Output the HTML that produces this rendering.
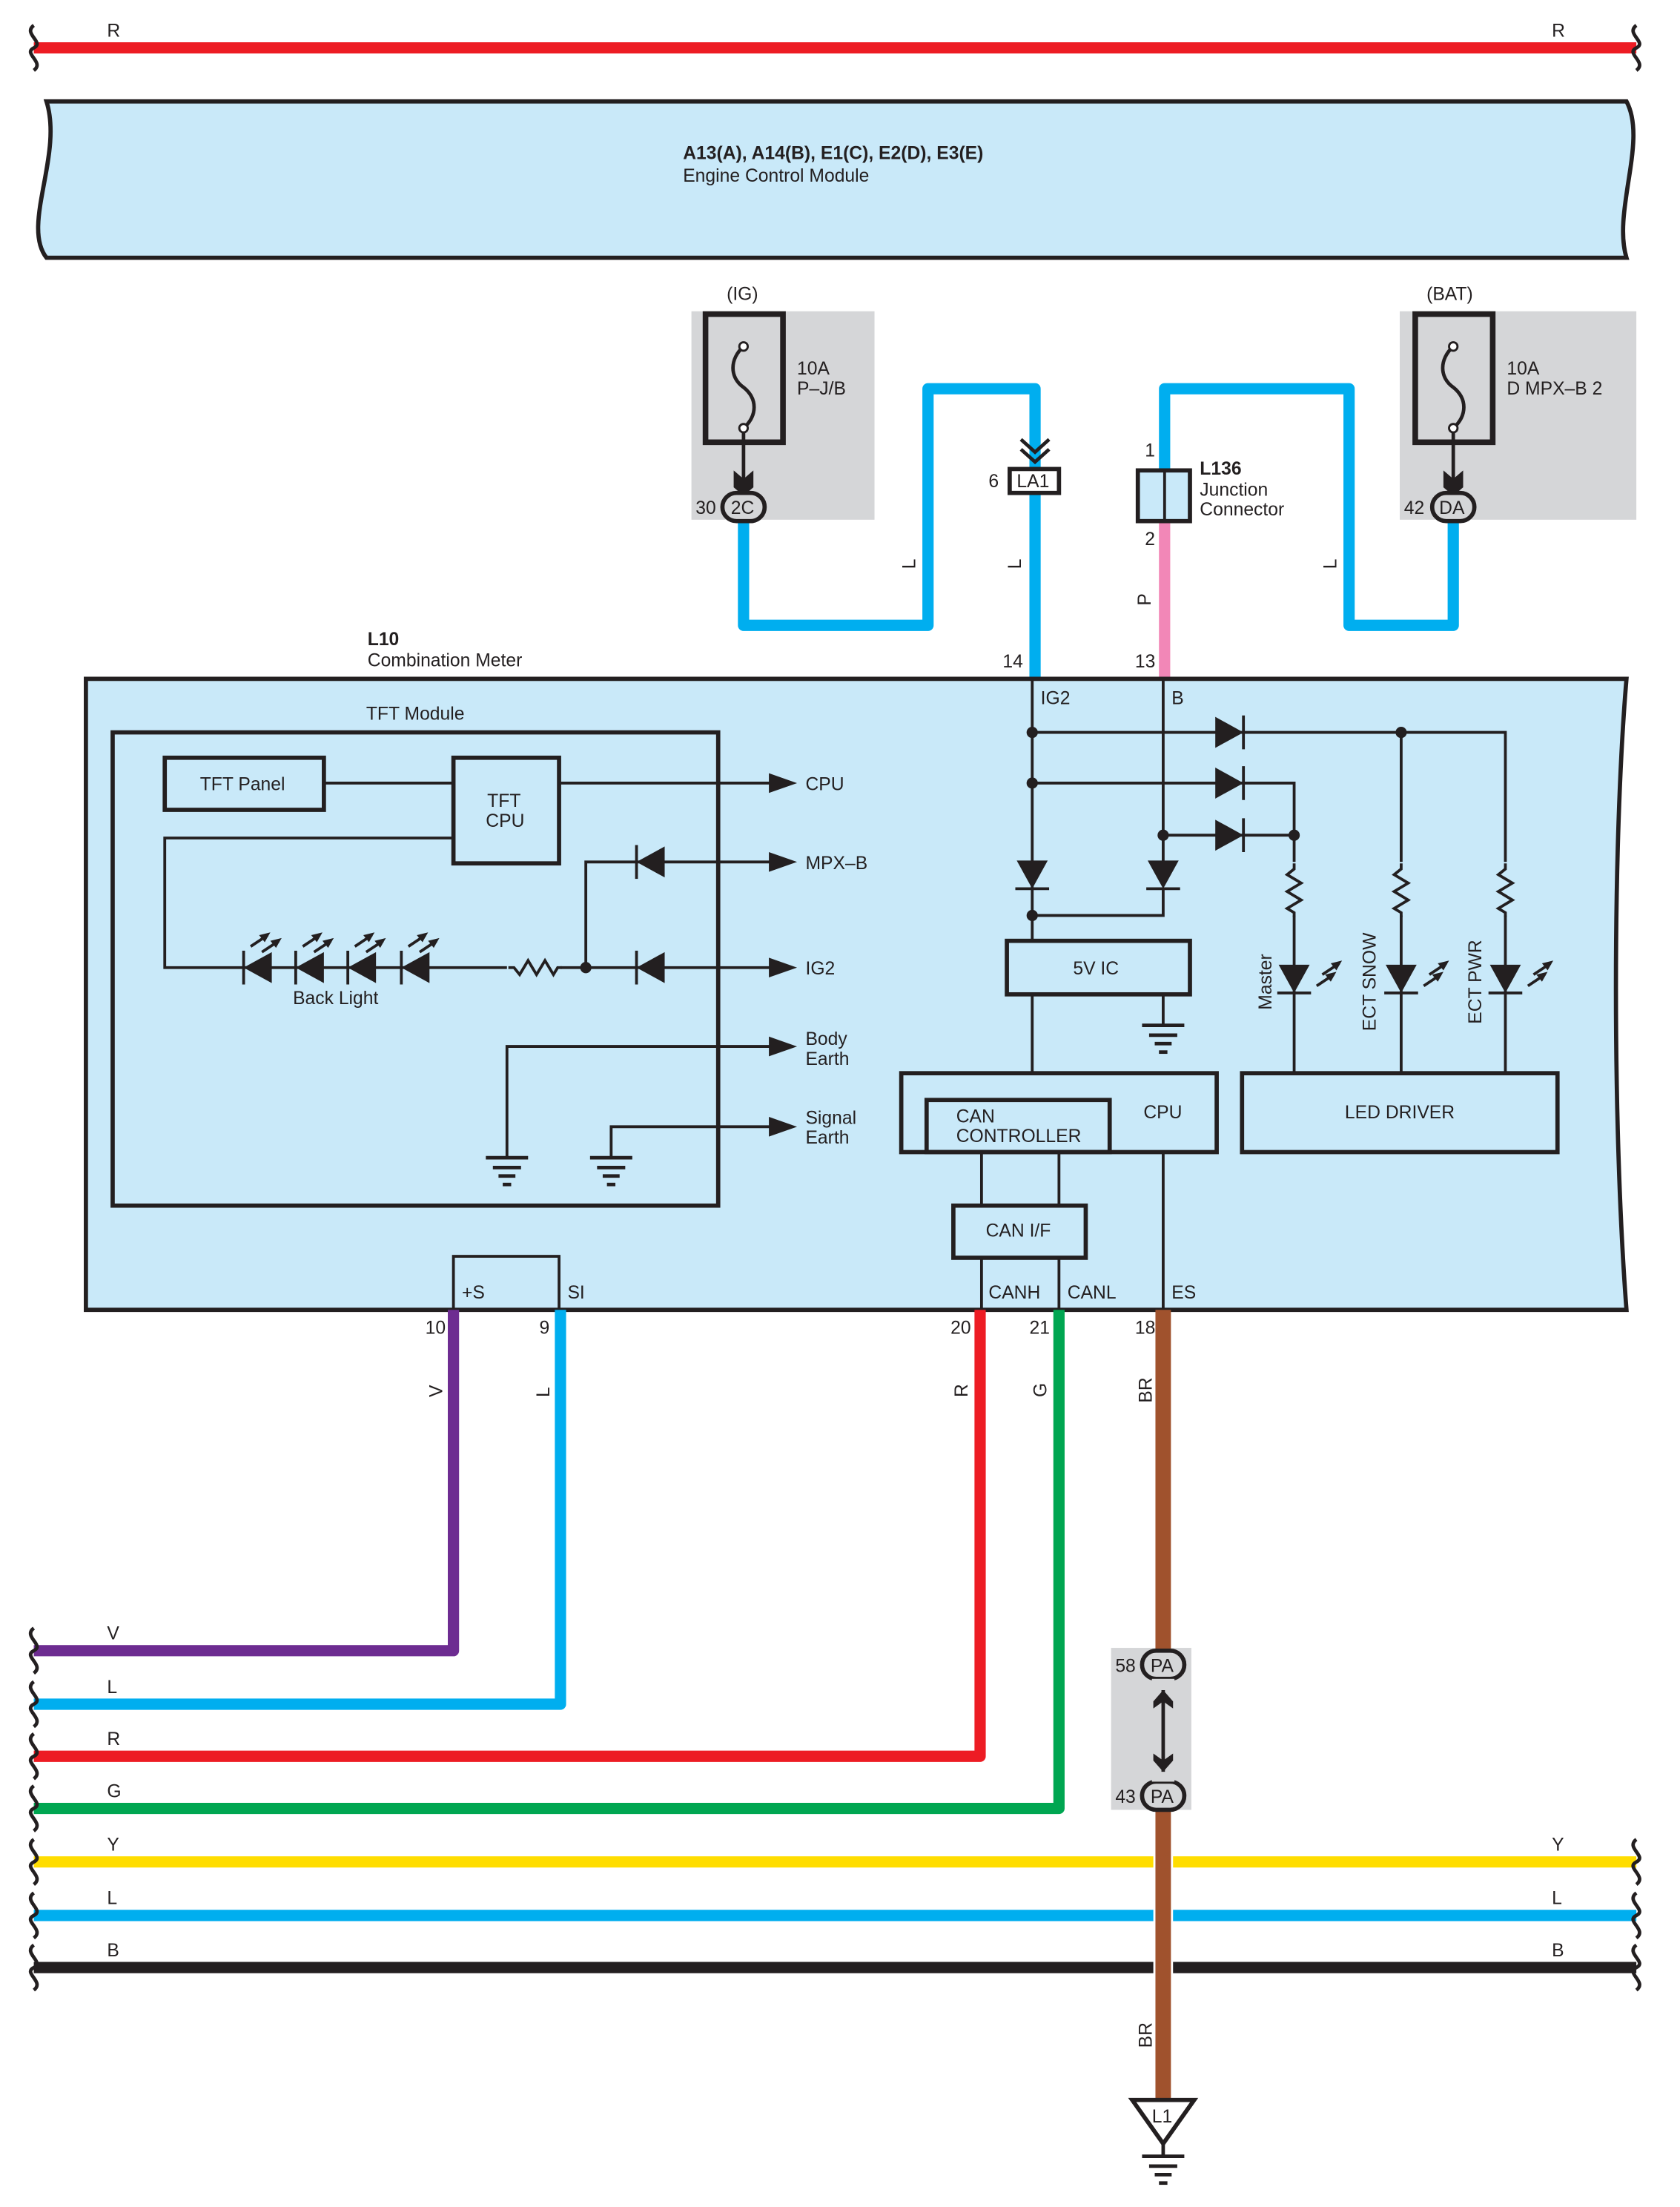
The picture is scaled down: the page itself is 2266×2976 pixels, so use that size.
<!DOCTYPE html>
<html><head><meta charset="utf-8">
<style>
html,body{margin:0;padding:0;background:#fff;}
svg{display:block;}
text{font-family:"Liberation Sans",sans-serif;font-size:13px;fill:#231f20;}
</style></head>
<body>
<svg width="2266" height="2976" viewBox="0 0 1193 1567" preserveAspectRatio="none" xmlns="http://www.w3.org/2000/svg">
<defs>
<g id="dr"><polygon points="-10,-11 10,0 -10,11" fill="#231f20"/><line x1="10" y1="-12" x2="10" y2="12" stroke="#231f20" stroke-width="2"/></g>
<g id="gnd"><line x1="-15" y1="0" x2="15" y2="0" stroke="#231f20" stroke-width="2.5"/><line x1="-10" y1="7" x2="10" y2="7" stroke="#231f20" stroke-width="2.5"/><line x1="-6" y1="13" x2="6" y2="13" stroke="#231f20" stroke-width="2.5"/><line x1="-3" y1="19" x2="3" y2="19" stroke="#231f20" stroke-width="2.5"/></g>
<g id="res"><polyline points="0,-18 0,-14 -5,-10 5,-4 -5,2 5,8 -5,14 0,17 0,20" fill="none" stroke="#231f20" stroke-width="2"/></g>
<g id="arr"><polygon points="-10,-7 10,0 -10,7" fill="#231f20"/></g>
<g id="ray"><line x1="0" y1="0" x2="12" y2="-8" stroke="#231f20" stroke-width="2"/><polygon points="14,-10 6,-8 10,-3" fill="#231f20"/></g>
<g id="wl" fill="none" stroke="#231f20" stroke-width="2.5"><path d="M0,-16 C-8,-10 8,-4 0,0 C-8,4 8,10 0,16"/></g>
</defs>

<line x1="24" y1="34" x2="1162" y2="34" stroke="#ed1c24" stroke-width="8"/>
<use href="#wl" x="24" y="34"/><use href="#wl" x="1162" y="34"/>
<text x="76" y="26">R</text><text x="1102" y="26">R</text>

<path d="M33,72 L1155,72 C1170,100 1145,150 1155,183 L33,183 C15,160 45,110 33,72 Z" fill="#c9e9f9" stroke="#231f20" stroke-width="3"/>
<text x="485" y="113" style="font-weight:bold">A13(A), A14(B), E1(C), E2(D), E3(E)</text>
<text x="485" y="129">Engine Control Module</text>

<rect x="491" y="221" width="130" height="148" fill="#d5d6d8"/>
<rect x="994" y="221" width="168" height="148" fill="#d5d6d8"/>
<rect x="501" y="223" width="55" height="91" fill="none" stroke="#231f20" stroke-width="4"/>
<rect x="1005" y="223" width="55" height="91" fill="none" stroke="#231f20" stroke-width="4"/>
<g fill="none" stroke="#231f20" stroke-width="2.5">
<path d="M528,246 C518,255 518,268 528,275 C538,283 538,295 528,304"/>
<path d="M1032,246 C1022,255 1022,268 1032,275 C1042,283 1042,295 1032,304"/>
<line x1="528" y1="304" x2="528" y2="342"/><line x1="1032" y1="304" x2="1032" y2="342"/>
</g>
<circle cx="528" cy="246" r="3" fill="#fff" stroke="#231f20" stroke-width="1.5"/><circle cx="528" cy="304" r="3" fill="#fff" stroke="#231f20" stroke-width="1.5"/>
<circle cx="1032" cy="246" r="3" fill="#fff" stroke="#231f20" stroke-width="1.5"/><circle cx="1032" cy="304" r="3" fill="#fff" stroke="#231f20" stroke-width="1.5"/>
<polygon points="521,334 528,340 535,334 535,346 528,352 521,346" fill="#231f20"/>
<polygon points="1025,334 1032,340 1039,334 1039,346 1032,352 1025,346" fill="#231f20"/>
<text x="516" y="213">(IG)</text><text x="1013" y="213">(BAT)</text>
<text x="566" y="266">10A</text><text x="566" y="280">P–J/B</text>
<text x="1070" y="266">10A</text><text x="1070" y="280">D MPX–B 2</text>

<g fill="none" stroke="#00aeef" stroke-width="8" stroke-linejoin="round">
<polyline points="528,368 528,444 659,444 659,276 735,276 735,332"/>
<line x1="735" y1="350" x2="735" y2="482"/>
<polyline points="827,333 827,276 958,276 958,444 1032,444 1032,368"/>
</g>
<line x1="827" y1="370" x2="827" y2="482" stroke="#f287b7" stroke-width="8"/>
<rect x="513" y="350" width="30" height="20" rx="10" fill="#d5d6d8" stroke="#231f20" stroke-width="3"/>
<text x="519" y="365">2C</text><text x="494" y="365">30</text>
<rect x="1017" y="350" width="30" height="20" rx="10" fill="#d5d6d8" stroke="#231f20" stroke-width="3"/>
<text x="1022" y="365">DA</text><text x="997" y="365">42</text>
<rect x="717" y="333" width="35" height="17" fill="#fff" stroke="#231f20" stroke-width="3"/>
<text x="722" y="346">LA1</text><text x="702" y="346">6</text>
<polyline points="725,312 735,321 745,312" fill="none" stroke="#231f20" stroke-width="2.5"/>
<polyline points="725,319 735,328 745,319" fill="none" stroke="#231f20" stroke-width="2.5"/>
<rect x="808" y="334" width="37" height="36" fill="#c9e9f9" stroke="#231f20" stroke-width="3"/>
<line x1="827" y1="334" x2="827" y2="370" stroke="#231f20" stroke-width="2"/>
<text x="852" y="337" style="font-weight:bold">L136</text><text x="852" y="352">Junction</text><text x="852" y="366">Connector</text>
<text x="813" y="324">1</text><text x="813" y="387">2</text>
<text transform="translate(650,404) rotate(-90)">L</text>
<text transform="translate(725,404) rotate(-90)">L</text>
<text transform="translate(949,404) rotate(-90)">L</text>
<text transform="translate(817,430) rotate(-90)">P</text>
<text x="712" y="474">14</text><text x="806" y="474">13</text>

<text x="261" y="458" style="font-weight:bold">L10</text>
<text x="261" y="473">Combination Meter</text>

<path d="M61,482 L1155,482 C1145,600 1145,800 1155,930 L61,930 Z" fill="#c9e9f9" stroke="#231f20" stroke-width="3"/>

<text x="260" y="511">TFT Module</text>
<rect x="80" y="520" width="430" height="336" fill="none" stroke="#231f20" stroke-width="3"/>
<rect x="117" y="538" width="113" height="37" fill="none" stroke="#231f20" stroke-width="3"/>
<text x="142" y="561">TFT Panel</text>
<rect x="322" y="538" width="75" height="75" fill="none" stroke="#231f20" stroke-width="3"/>
<text x="346" y="573">TFT</text><text x="345" y="587">CPU</text>
<g stroke="#231f20" stroke-width="2" fill="none">
<line x1="230" y1="556" x2="322" y2="556"/>
<line x1="397" y1="556" x2="556" y2="556"/>
<polyline points="322,595 117,595 117,687 360,687"/>
<line x1="398" y1="687" x2="556" y2="687"/>
<polyline points="416,687 416,612 556,612"/>
<polyline points="360,822 360,743 556,743"/>
<polyline points="434,822 434,800 556,800"/>
</g>
<use href="#res" transform="translate(379,687) rotate(-90)"/>
<circle cx="416" cy="687" r="4" fill="#231f20"/>
<use href="#dr" transform="translate(462,612) rotate(180)"/>
<use href="#dr" transform="translate(462,687) rotate(180)"/>
<use href="#dr" transform="translate(183,687) rotate(180)"/>
<use href="#dr" transform="translate(220,687) rotate(180)"/>
<use href="#dr" transform="translate(257,687) rotate(180)"/>
<use href="#dr" transform="translate(295,687) rotate(180)"/>
<use href="#ray" x="178" y="672"/><use href="#ray" x="186" y="676"/>
<use href="#ray" x="215" y="672"/><use href="#ray" x="223" y="676"/>
<use href="#ray" x="252" y="672"/><use href="#ray" x="260" y="676"/>
<use href="#ray" x="290" y="672"/><use href="#ray" x="298" y="676"/>
<text x="208" y="713">Back Light</text>
<use href="#gnd" x="360" y="822"/><use href="#gnd" x="434" y="822"/>
<use href="#arr" x="556" y="556"/><use href="#arr" x="556" y="612"/><use href="#arr" x="556" y="687"/>
<use href="#arr" x="556" y="743"/><use href="#arr" x="556" y="800"/>
<text x="572" y="561">CPU</text><text x="572" y="617">MPX–B</text><text x="572" y="692">IG2</text>
<text x="572" y="742">Body</text><text x="572" y="756">Earth</text>
<text x="572" y="798">Signal</text><text x="572" y="812">Earth</text>

<text x="739" y="500">IG2</text><text x="832" y="500">B</text>
<g stroke="#231f20" stroke-width="2" fill="none">
<line x1="733" y1="482" x2="733" y2="668"/>
<line x1="826" y1="482" x2="826" y2="612"/>
<polyline points="733,650 826,650 826,630"/>
<polyline points="733,520 1069,520 1069,612"/>
<polyline points="733,556 919,556 919,612"/>
<line x1="826" y1="593" x2="919" y2="593"/>
<line x1="995" y1="520" x2="995" y2="612"/>
<line x1="919" y1="650" x2="919" y2="762"/>
<line x1="995" y1="650" x2="995" y2="762"/>
<line x1="1069" y1="650" x2="1069" y2="762"/>
<line x1="826" y1="706" x2="826" y2="728"/>
<line x1="733" y1="706" x2="733" y2="762"/>
<line x1="697" y1="818" x2="697" y2="930"/>
<line x1="752" y1="818" x2="752" y2="930"/>
<line x1="826" y1="818" x2="826" y2="930"/>
</g>
<circle cx="733" cy="520" r="4" fill="#231f20"/><circle cx="733" cy="556" r="4" fill="#231f20"/>
<circle cx="733" cy="650" r="4" fill="#231f20"/><circle cx="826" cy="593" r="4" fill="#231f20"/>
<circle cx="995" cy="520" r="4" fill="#231f20"/><circle cx="919" cy="593" r="4" fill="#231f20"/>
<use href="#dr" x="873" y="520"/><use href="#dr" x="873" y="556"/><use href="#dr" x="873" y="593"/>
<use href="#dr" transform="translate(733,621) rotate(90)"/>
<use href="#dr" transform="translate(826,621) rotate(90)"/>
<use href="#res" x="919" y="631"/><use href="#res" x="995" y="631"/><use href="#res" x="1069" y="631"/>
<use href="#dr" transform="translate(919,695) rotate(90)"/>
<use href="#dr" transform="translate(995,695) rotate(90)"/>
<use href="#dr" transform="translate(1069,695) rotate(90)"/>
<use href="#ray" x="935" y="700"/><use href="#ray" x="939" y="692"/>
<use href="#ray" x="1011" y="700"/><use href="#ray" x="1015" y="692"/>
<use href="#ray" x="1085" y="700"/><use href="#ray" x="1089" y="692"/>
<text transform="translate(903,717) rotate(-90)">Master</text>
<text transform="translate(977,732) rotate(-90)">ECT SNOW</text>
<text transform="translate(1052,727) rotate(-90)">ECT PWR</text>
<rect x="715" y="668" width="130" height="38" fill="none" stroke="#231f20" stroke-width="3"/>
<text x="762" y="692">5V IC</text>
<use href="#gnd" x="826" y="728"/>
<rect x="640" y="762" width="224" height="56" fill="none" stroke="#231f20" stroke-width="3"/>
<rect x="658" y="781" width="130" height="37" fill="none" stroke="#231f20" stroke-width="3"/>
<text x="679" y="797">CAN</text><text x="679" y="811">CONTROLLER</text>
<text x="812" y="794">CPU</text>
<rect x="882" y="762" width="224" height="56" fill="none" stroke="#231f20" stroke-width="3"/>
<text x="955" y="794">LED DRIVER</text>
<rect x="677" y="856" width="94" height="37" fill="#c9e9f9" stroke="#231f20" stroke-width="3"/>
<text x="700" y="878">CAN I/F</text>
<text x="702" y="922">CANH</text><text x="758" y="922">CANL</text><text x="832" y="922">ES</text>
<rect x="322" y="892" width="75" height="38" fill="none" stroke="#231f20" stroke-width="2"/>
<text x="328" y="922">+S</text><text x="403" y="922">SI</text>

<g fill="none" stroke-width="8" stroke-linejoin="round">
<polyline points="322,930 322,1172 24,1172" stroke="#6d2c91"/>
<polyline points="398,930 398,1210 24,1210" stroke="#00aeef"/>
<polyline points="696,930 696,1247 24,1247" stroke="#ed1c24"/>
<polyline points="752,930 752,1284 24,1284" stroke="#00a651"/>
<line x1="24" y1="1322" x2="1162" y2="1322" stroke="#ffdd00"/>
<line x1="24" y1="1360" x2="1162" y2="1360" stroke="#00aeef"/>
<line x1="24" y1="1397" x2="1162" y2="1397" stroke="#231f20"/>
</g>
<rect x="819" y="1300" width="14" height="110" fill="#fff"/>
<rect x="789" y="1170" width="57" height="115" fill="#d5d6d8"/>
<line x1="826" y1="930" x2="826" y2="1490" stroke="#a0522d" stroke-width="11"/>
<rect x="811" y="1172" width="30" height="20" rx="10" fill="#d5d6d8" stroke="#231f20" stroke-width="3"/>
<rect x="811" y="1265" width="30" height="20" rx="10" fill="#d5d6d8" stroke="#231f20" stroke-width="3"/>
<rect x="818" y="1192" width="16" height="73" fill="#d5d6d8"/>
<line x1="826" y1="1200" x2="826" y2="1258" stroke="#231f20" stroke-width="2.5"/>
<polygon points="819,1208 826,1200 833,1208 833,1213 826,1208 819,1213" fill="#231f20"/>
<polygon points="819,1250 826,1258 833,1250 833,1245 826,1250 819,1245" fill="#231f20"/>
<text x="817" y="1187">PA</text><text x="817" y="1280">PA</text>
<text x="792" y="1187">58</text><text x="792" y="1280">43</text>
<polygon points="804,1491 848,1491 826,1522" fill="#fff" stroke="#231f20" stroke-width="3"/>
<text x="818" y="1507">L1</text>
<line x1="826" y1="1522" x2="826" y2="1530" stroke="#231f20" stroke-width="2.5"/>
<use href="#gnd" x="826" y="1531"/>
<use href="#wl" x="24" y="1172"/><use href="#wl" x="24" y="1210"/><use href="#wl" x="24" y="1247"/>
<use href="#wl" x="24" y="1284"/><use href="#wl" x="24" y="1322"/><use href="#wl" x="24" y="1360"/><use href="#wl" x="24" y="1397"/>
<use href="#wl" x="1162" y="1322"/><use href="#wl" x="1162" y="1360"/><use href="#wl" x="1162" y="1397"/>
<text x="76" y="1164">V</text><text x="76" y="1202">L</text><text x="76" y="1239">R</text><text x="76" y="1276">G</text>
<text x="76" y="1314">Y</text><text x="76" y="1352">L</text><text x="76" y="1389">B</text>
<text x="1102" y="1314">Y</text><text x="1102" y="1352">L</text><text x="1102" y="1389">B</text>
<text x="302" y="947">10</text><text x="383" y="947">9</text><text x="675" y="947">20</text><text x="731" y="947">21</text><text x="806" y="947">18</text>
<text transform="translate(314,992) rotate(-90)">V</text>
<text transform="translate(390,992) rotate(-90)">L</text>
<text transform="translate(687,992) rotate(-90)">R</text>
<text transform="translate(743,992) rotate(-90)">G</text>
<text transform="translate(818,996) rotate(-90)">BR</text>
<text transform="translate(818,1454) rotate(-90)">BR</text>
</svg>
</body></html>
